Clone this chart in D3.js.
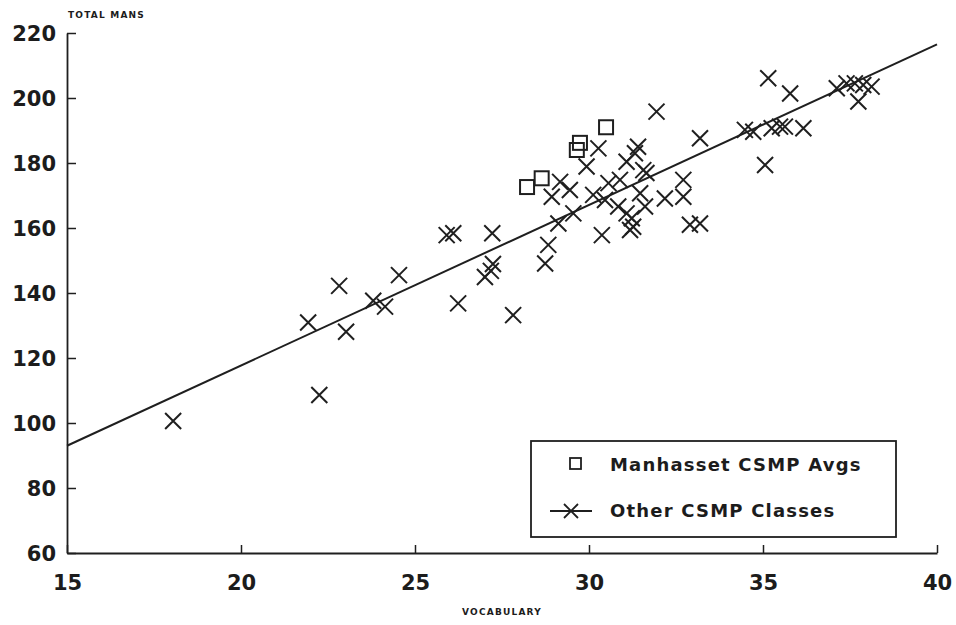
<!DOCTYPE html>
<html>
<head>
<meta charset="utf-8">
<script src="https://cdn.jsdelivr.net/npm/d3@7"></script>
<style>
  html, body { margin: 0; padding: 0; background: #fff; }
  svg { display: block; }
  .tick text, .lbl { font-family: "DejaVu Sans", sans-serif; font-weight: bold; fill: #1c1c1c; }
</style>
</head>
<body>
<svg id="chart" width="956" height="625"></svg>
<script>
// Manhasset CSMP class averages (vocabulary score, total mans)
const manhassetVocab = [28.22, 28.64, 29.65, 29.74, 30.49];
const manhassetTotal = [172.6, 175.3, 184.0, 186.2, 191.0];

// Other CSMP classes
const otherVocab = [
  18.05, 21.93, 22.25, 22.82, 23.02, 23.80, 24.14, 24.54, 25.91, 26.10,
  26.24, 27.01, 27.18, 27.24, 27.22, 27.82, 28.74, 28.83, 28.93, 29.12,
  29.17, 29.45, 29.55, 29.93, 30.12, 30.27, 30.37, 30.46, 30.56, 30.84,
  30.89, 31.08, 31.08, 31.18, 31.23, 31.27, 31.32, 31.41, 31.47, 31.56,
  31.61, 31.65, 31.94, 32.18, 32.71, 32.71, 32.90, 33.19, 33.19, 34.48,
  34.72, 35.06, 35.15, 35.25, 35.49, 35.63, 35.78, 36.16, 37.12, 37.40,
  37.64, 37.74, 37.88, 38.12
];
const otherTotal = [
  100.6, 130.9, 108.6, 142.2, 128.1, 137.6, 135.8, 145.5, 157.8, 158.4,
  136.8, 144.9, 146.8, 148.9, 158.4, 133.2, 149.1, 154.8, 169.6, 161.4,
  174.2, 171.7, 164.5, 178.9, 170.2, 184.5, 157.8, 168.6, 173.8, 166.6,
  174.8, 164.5, 180.4, 159.4, 163.0, 160.4, 183.0, 185.0, 170.7, 177.8,
  166.6, 176.9, 195.8, 169.1, 174.8, 169.6, 161.0, 161.4, 187.6, 190.2,
  189.6, 179.4, 206.1, 190.7, 191.2, 191.2, 201.4, 190.7, 203.0, 204.5,
  204.5, 198.9, 204.0, 203.5
];

// Least-squares fit line endpoints
const fitVocab = [15, 40];
const fitTotal = [93.0, 216.5];

const xTicks = [15, 20, 25, 30, 35, 40];
const yTicks = [60, 80, 100, 120, 140, 160, 180, 200, 220];

const legendLabels = ["Manhasset CSMP Avgs", "Other CSMP Classes"];

const ink = "#1f1f1f";
const svg = d3.select("#chart");
const m = { left: 67, right: 937, top: 33, bottom: 553 };

const x = d3.scaleLinear().domain([15, 40]).range([m.left, m.right]);
const y = d3.scaleLinear().domain([60, 220]).range([m.bottom, m.top]);

// Axes with inward ticks
const gx = svg.append("g")
  .attr("transform", `translate(0,${m.bottom})`)
  .call(d3.axisBottom(x).tickValues(xTicks).tickFormat(d3.format("d"))
    .tickSizeInner(-8).tickSizeOuter(0).tickPadding(22));
const gy = svg.append("g")
  .attr("transform", `translate(${m.left},0)`)
  .call(d3.axisLeft(y).tickValues(yTicks).tickFormat(d3.format("d"))
    .tickSizeInner(-9).tickSizeOuter(0).tickPadding(11));

[gx, gy].forEach(g => {
  g.select(".domain").attr("stroke", ink).attr("stroke-width", 1.8);
  g.selectAll(".tick line").attr("stroke", ink).attr("stroke-width", 1.5);
  g.selectAll(".tick text").attr("font-size", 21).attr("fill", ink);
});
gy.selectAll(".tick text").attr("dy", "0.36em");

// Axis titles
svg.append("text").attr("class", "lbl")
  .attr("x", m.left + 1).attr("y", 18)
  .attr("font-size", 9).attr("letter-spacing", 1.2)
  .text("TOTAL MANS");
svg.append("text").attr("class", "lbl")
  .attr("x", (m.left + m.right) / 2).attr("y", 615)
  .attr("text-anchor", "middle")
  .attr("font-size", 9).attr("letter-spacing", 1.2)
  .text("VOCABULARY");

// Fit line
svg.append("line")
  .attr("x1", x(fitVocab[0])).attr("y1", y(fitTotal[0]))
  .attr("x2", x(fitVocab[1])).attr("y2", y(fitTotal[1]))
  .attr("stroke", ink).attr("stroke-width", 2);

// Cross markers
const cross = 8;
const crossPath = (cx, cy, s) =>
  `M${cx - s},${cy - s}L${cx + s},${cy + s}M${cx - s},${cy + s}L${cx + s},${cy - s}`;

svg.append("g").selectAll("path")
  .data(d3.range(otherVocab.length))
  .join("path")
  .attr("d", i => crossPath(x(otherVocab[i]), y(otherTotal[i]), cross))
  .attr("stroke", ink).attr("stroke-width", 2).attr("fill", "none");

// Square markers
const sq = 14;
svg.append("g").selectAll("rect")
  .data(d3.range(manhassetVocab.length))
  .join("rect")
  .attr("x", i => x(manhassetVocab[i]) - sq / 2)
  .attr("y", i => y(manhassetTotal[i]) - sq / 2)
  .attr("width", sq).attr("height", sq)
  .attr("fill", "none").attr("stroke", ink).attr("stroke-width", 2);

// Legend
const lg = svg.append("g");
lg.append("rect")
  .attr("x", 531).attr("y", 441).attr("width", 365).attr("height", 96)
  .attr("fill", "#fff").attr("stroke", ink).attr("stroke-width", 1.8);
lg.append("rect")
  .attr("x", 570).attr("y", 458).attr("width", 11).attr("height", 11)
  .attr("fill", "none").attr("stroke", ink).attr("stroke-width", 1.8);
lg.append("line")
  .attr("x1", 550).attr("x2", 592).attr("y1", 511).attr("y2", 511)
  .attr("stroke", ink).attr("stroke-width", 1.8);
lg.append("path")
  .attr("d", crossPath(571, 511, 7))
  .attr("stroke", ink).attr("stroke-width", 1.8).attr("fill", "none");
lg.selectAll("text.leg")
  .data(legendLabels)
  .join("text")
  .attr("class", "lbl leg")
  .attr("x", 610).attr("y", (d, i) => 471 + i * 46)
  .attr("font-size", 18).attr("letter-spacing", 1.2)
  .text(d => d);
</script>
</body>
</html>
